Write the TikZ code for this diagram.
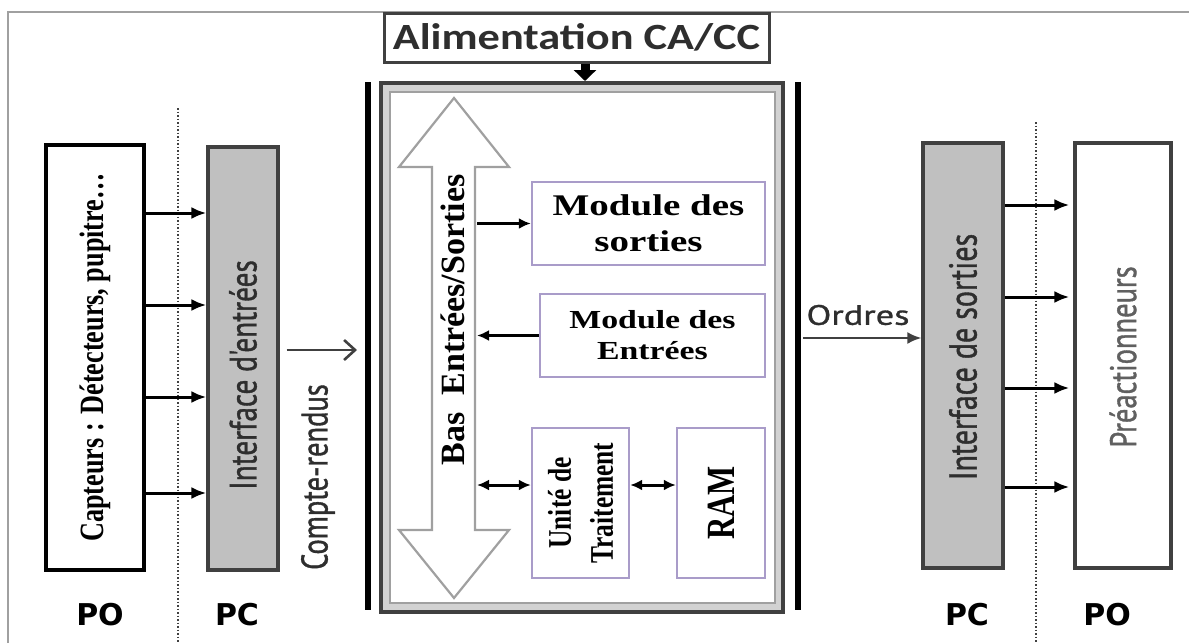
\documentclass[tikz,border=0pt]{standalone}
\usepackage{fontspec}
\setmainfont{Liberation Serif}
\newfontfamily\serifh[FakeStretch=1.3]{Liberation Serif}
\newfontfamily\serifv[FakeStretch=0.77]{Liberation Serif}
\newfontfamily\sansh[FakeStretch=1.3,FakeBold=1]{PT Sans}
\newfontfamily\sansv[FakeStretch=0.77,FakeBold=1]{PT Sans}
\newfontfamily\alimfont[FakeStretch=1.2]{Carlito}
\newfontfamily\zonefont{DejaVu Sans}
\usetikzlibrary{arrows.meta,calc,positioning}
\definecolor{framegray}{HTML}{A0A0A0}
\definecolor{boxgray}{HTML}{C0C0C0}
\definecolor{edgegray}{HTML}{404040}
\definecolor{modlilac}{HTML}{A99CC9}
\definecolor{txtgray}{HTML}{2E2E2E}
\tikzset{
  box/.style={draw, rectangle, inner sep=0pt},
  grbox/.style={box, fill=boxgray, draw=edgegray, line width=3.2pt},
  modbox/.style={box, draw=modlilac, line width=2.4pt, fill=white},
  arr/.style={line width=3pt, -{Latex[length=15pt,width=12pt]}},
  busarr/.style={line width=3pt, -{Latex[length=12pt,width=11pt]}},
  dbusarr/.style={line width=3pt, {Latex[length=12pt,width=11pt]}-{Latex[length=12pt,width=11pt]}},
  zone/.style={font=\zonefont\bfseries\fontsize{30}{30}\selectfont},
  vtxt/.style={rotate=90, text=txtgray}
}
\begin{document}
\begin{tikzpicture}[x=1pt,y=-1pt]
\useasboundingbox (0,0) rectangle (1189,643);
\draw[framegray, line width=2pt] (8,643) -- (8,12) -- (1189,12);

\node[box, draw=black, line width=3.5pt, minimum width=98pt, minimum height=425pt] (capt) at (95,357.5) {};
\node[rotate=90, font=\serifv\bfseries\fontsize{34}{34}\selectfont] at (capt) {Capteurs : Détecteurs, pupitre…};
\node[grbox, minimum width=70pt, minimum height=423pt] (ient) at (243,358.5) {};
\node[vtxt, font=\sansv\fontsize{38}{38}\selectfont] at (243,375) {Interface d'entrées};
\draw[edgegray, dotted, line width=1.5pt] (178,108) -- (178,643);
\foreach \y in {213,305,397,493}
  \draw[arr] (capt.east |- 0,\y) -- (ient.west |- 0,\y);
\node[zone] (po1) at (100,615) {PO};
\node[zone] (pc1) at (237,615) {PC};
\node[vtxt, font=\sansv\fontsize{37}{37}\selectfont] (cr) at (318,477) {Compte-rendus};
\coordinate (crin) at (357,350);
\draw[edgegray, line width=2.6pt, -{Straight Barb[length=11pt,width=20pt]}] ($(ient.east |- crin)+(7,0)$) -- (crin);

\coordinate (lb1) at (368,82);
\coordinate (lb2) at (368,610);
\coordinate (rb1) at (798,82);
\coordinate (rb2) at (798,610);
\draw[black, line width=6pt] (lb1) -- (lb2);
\draw[black, line width=6pt] (rb1) -- (rb2);
\node[box, draw=edgegray, fill=gray!35, line width=4pt, minimum width=402pt, minimum height=529pt] (plc) at (582,347.5) {};
\node[box, draw=framegray, fill=white, line width=2pt, minimum width=385pt, minimum height=511pt] (plcin) at (plc) {};
\node[box, draw=edgegray, line width=3pt, minimum width=385pt, minimum height=49pt, text=txtgray,
  font=\alimfont\bfseries\fontsize{37}{37}\selectfont] (alim) at (576.5,37.5) {Alimentation CA/CC};
\coordinate (pw) at (585,0);
\draw[line width=9pt, -{Triangle[width=22pt,length=11pt]}] (alim.south -| pw) -- (plc.north -| pw);

\draw[framegray, line width=2.2pt, fill=white] (454,98) -- (509,167) -- (475,167) -- (475,530) -- (509,530)
  -- (454,598) -- (399,530) -- (432,530) -- (432,167) -- (399,167) -- cycle;
\node[rotate=90, font=\bfseries\fontsize{34}{34}\selectfont] (bus) at (453,320) {Bas\ \ Entrées/Sorties};
\coordinate (busr) at (477,0);
\node[modbox, minimum width=233pt, minimum height=83pt, align=center,
  font=\serifh\bfseries\fontsize{30}{36}\selectfont] (msort) at (648.5,223.5) {Module des\\sorties};
\node[modbox, minimum width=225pt, minimum height=83pt, align=center,
  font=\serifh\bfseries\fontsize{26}{31}\selectfont] (ment) at (652.5,335.5) {Module des\\Entrées};
\node[modbox, minimum width=97pt, minimum height=150pt] (unite) at (580.5,503) {};
\node[rotate=90, align=center, font=\serifv\bfseries\fontsize{33}{42}\selectfont] at (unite) {Unité de\\Traitement};
\node[modbox, minimum width=88pt, minimum height=150pt] (ram) at (721,503) {};
\node[rotate=90, font=\serifv\bfseries\fontsize{40}{40}\selectfont] at (ram) {RAM};
\draw[busarr] (busr |- msort.west) -- (msort.west);
\draw[busarr] (ment.west) -- (busr |- ment.west);
\coordinate (lvl) at (0,485);
\draw[dbusarr] (busr |- lvl) -- (unite.west |- lvl);
\draw[dbusarr] (unite.east |- lvl) -- (ram.west |- lvl);

\coordinate (ord) at (803,338);
\node[grbox, minimum width=80pt, minimum height=425pt] (isort) at (963,355.5) {};
\draw[edgegray, line width=2.4pt, -{Latex[length=14pt,width=12pt]}] (ord) -- (isort.west |- ord);
\node[font=\sansh\fontsize{28}{28}\selectfont, text=txtgray] (ordres) at (858,315) {Ordres};
\node[vtxt, font=\sansv\fontsize{39}{39}\selectfont] at (963,357) {Interface de sorties};
\draw[edgegray, dotted, line width=1.5pt] (1036,122) -- (1036,643);
\node[box, draw=edgegray, line width=3.2pt, minimum width=96pt, minimum height=425pt] (preact) at (1123,355.5) {};
\node[vtxt, text=gray!75!black, font=\sansv\fontsize{37}{37}\selectfont] at (1123,357) {Préactionneurs};
\foreach \y in {205,297,388,487}
  \draw[arr, shorten >=4pt] (isort.east |- 0,\y) -- (preact.west |- 0,\y);
\node[zone] (pc2) at (967,615) {PC};
\node[zone] (po2) at (1107,615) {PO};
\end{tikzpicture}
\end{document}
